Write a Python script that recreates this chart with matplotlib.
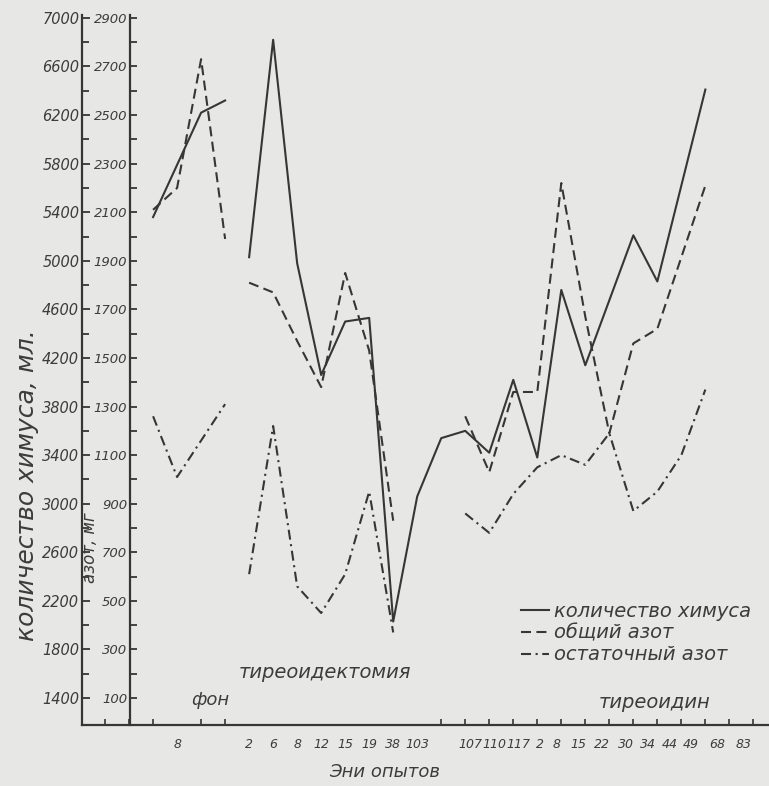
import matplotlib.pyplot as plt
from matplotlib.lines import Line2D

# days of experiment, x positions in grid steps along the day axis
bg_pos = [3, 4, 5, 6]
tx_pos = [7, 8, 9, 10, 11, 12, 13]
chyme_pos = [7, 8, 9, 10, 11, 12, 13, 14, 15, 16, 17, 18, 19, 20, 21, 23, 24, 26]
thy_pos = [16, 17, 18, 19, 20, 21, 22, 23, 24, 26]
resid_bg_pos = [3, 4, 6]
resid_thy_pos = [16, 17, 18, 19, 20, 21, 22, 23, 24, 25, 26]

# chyme volume, ml (solid)
chyme_bg = [5360, 5790, 6220, 6320]
chyme_exp = [5030, 6820, 4980, 4060, 4500, 4530, 2030, 3060, 3540, 3600,
             3420, 4020, 3380, 4760, 4140, 5210, 4830, 6410]

# total nitrogen, mg (dashed)
total_n_bg = [2110, 2200, 2730, 1990]
total_n_tx = [1810, 1770, 1570, 1380, 1850, 1530, 830]
total_n_thy = [1260, 1030, 1360, 1360, 2220, 1670, 1190, 1560, 1620, 2210]

# residual nitrogen, mg (dash-dot)
resid_bg = [1260, 1010, 1310]
resid_tx = [610, 1220, 560, 450, 610, 950, 370]
resid_thy = [860, 780, 940, 1050, 1100, 1060, 1190, 870, 950, 1100, 1370]

# tick labels
chyme_ticks = list(range(1400, 7001, 400))
n_ticks = list(range(100, 2901, 200))
day_label_pos = [4, 7, 8, 9, 10, 11, 12, 13, 14,
                 16.2, 17.2, 18.2, 19.1, 19.8, 20.7, 21.7, 22.7, 23.6, 24.5, 25.4, 26.5, 27.6]
day_labels = ['8', '2', '6', '8', '12', '15', '19', '38', '103',
              '107', '110', '117', '2', '8', '15', '22', '30', '34', '44', '49', '68', '83']

ink = '#363636'
paper = '#e7e7e5'
dash = (0, (4.8, 2.6))
dashdot = (0, (4.8, 2.2, 1.0, 2.2))
lw = 1.5

plt.rcParams['font.family'] = 'DejaVu Sans'
plt.rcParams['font.style'] = 'italic'

fig = plt.figure(figsize=(7.69, 7.86), dpi=100, facecolor=paper)
# chyme axis (left, outer scale)
ax = fig.add_axes([82/769, 61/786, 687/769, 710/786])
ax.set_facecolor('none')
# nitrogen axis (inner scale)
axn = ax.twinx()

n_lo, n_hi = -11, 2912
ax.set_ylim(1400 + (n_lo - 100) * 2, 1400 + (n_hi - 100) * 2)
axn.set_ylim(n_lo, n_hi)
ax.set_xlim(0.04, 28.65)

# solid: chyme
ax.plot(bg_pos, chyme_bg, color=ink, lw=lw)
ax.plot(chyme_pos, chyme_exp, color=ink, lw=lw)
# dashed: total nitrogen
axn.plot(bg_pos, total_n_bg, color=ink, lw=lw, ls=dash)
axn.plot(tx_pos, total_n_tx, color=ink, lw=lw, ls=dash)
axn.plot(thy_pos, total_n_thy, color=ink, lw=lw, ls=dash)
# dash-dot: residual nitrogen
axn.plot(resid_bg_pos, resid_bg, color=ink, lw=lw, ls=dashdot)
axn.plot(tx_pos, resid_tx, color=ink, lw=lw, ls=dashdot)
axn.plot(resid_thy_pos, resid_thy, color=ink, lw=lw, ls=dashdot)

for s in ['top', 'right']:
    ax.spines[s].set_visible(False)
    axn.spines[s].set_visible(False)
axn.spines['bottom'].set_visible(False)
for s in ['left', 'bottom']:
    ax.spines[s].set_color(ink)
    ax.spines[s].set_linewidth(1.6)

ax.set_yticks(chyme_ticks)
ax.set_yticks([v + 200 for v in chyme_ticks[:-1]], minor=True)
ax.tick_params(axis='y', which='major', direction='in', length=6, width=1.3,
               color=ink, labelcolor='#3c3c3c', labelsize=10.5, pad=2)
ax.tick_params(axis='y', which='minor', direction='in', length=5, width=1.3, color=ink)

axn.yaxis.set_ticks_position('left')
axn.yaxis.set_label_position('left')
axn.spines['left'].set_position(('axes', (130 - 82) / 687))
axn.spines['left'].set_color(ink)
axn.spines['left'].set_linewidth(1.6)
axn.set_yticks(n_ticks)
axn.set_yticks([v + 100 for v in n_ticks[:-1]], minor=True)
axn.tick_params(axis='y', which='major', direction='in', length=5, width=1.3,
                color=ink, labelcolor='#3c3c3c', labelsize=9.5, pad=2)
axn.tick_params(axis='y', which='minor', direction='in', length=5, width=1.3, color=ink)

ax.set_xticks(day_label_pos, day_labels)
ax.set_xticks(range(1, 29), minor=True)
ax.tick_params(axis='x', which='major', length=0, labelsize=9, labelcolor='#3c3c3c', pad=9)
ax.tick_params(axis='x', which='minor', direction='in', length=4, width=1.2, color=ink)

fig.text(27/769, 1 - 485/786, 'количество химуса, мл.', rotation=90, ha='center', va='center',
         fontsize=18, color='#3c3c3c')
fig.text(90/769, 1 - 548/786, 'азот, мг', rotation=90, ha='center', va='center',
         fontsize=12, color='#3c3c3c')
fig.text(210/769, 1 - 700/786, 'фон', ha='center', va='center', fontsize=13, color='#3c3c3c')
fig.text(325/769, 1 - 672/786, 'тиреоидектомия', ha='center', va='center', fontsize=14, color='#3c3c3c')
fig.text(655/769, 1 - 703/786, 'тиреоидин', ha='center', va='center', fontsize=14, color='#3c3c3c')
fig.text(385/769, 1 - 772/786, 'Эни опытов', ha='center', va='center', fontsize=13, color='#3c3c3c')

handles = [Line2D([], [], color=ink, lw=lw),
           Line2D([], [], color=ink, lw=lw, ls=dash),
           Line2D([], [], color=ink, lw=lw, ls=dashdot)]
fig.legend(handles, ['количество химуса', 'общий азот', 'остаточный азот'],
           loc='center right', bbox_to_anchor=(1.0, 1 - 633/786), frameon=False,
           handlelength=1.4, handletextpad=0.3, labelspacing=0.15, fontsize=14,
           labelcolor='#3c3c3c')

fig.savefig('out.png', dpi=100, facecolor=paper)
